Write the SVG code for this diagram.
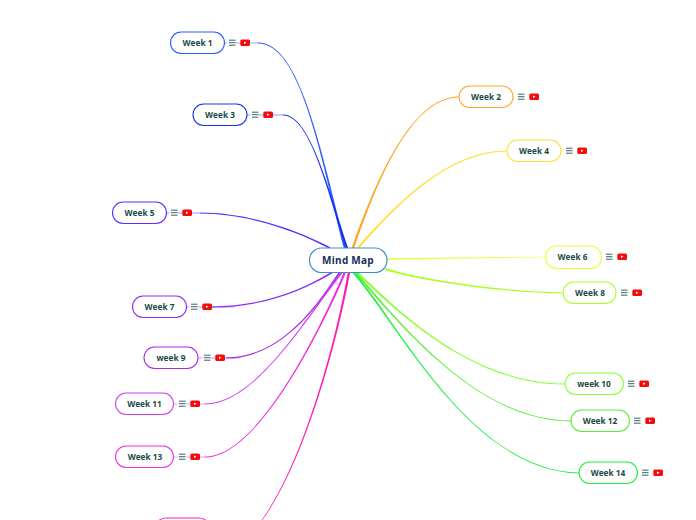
<svg xmlns="http://www.w3.org/2000/svg" width="696" height="520" viewBox="0 0 696 520">
<style>
text{font-family:"Open Sans","Noto Sans",sans-serif;font-weight:700;fill:#1a4a45;font-size:8.3px;text-anchor:middle}
.n{fill:#fff;stroke-width:1.1}
.s{fill:none;stroke-width:1;stroke-opacity:.5}
.m{fill:none;stroke:#2a5a55;stroke-width:.95}
.y{fill:#f40b0b}.t{fill:#fff}
</style>
<defs>
<g id="ic"><rect class="t" x="-17.500" y="-5" width="8.500" height="10"/><path class="m" d="M-16-2.800h6.500M-16-.3h6.500M-16 2.200h6.500"/><rect class="y" x="-4.700" y="-3.600" width="9.700" height="6.500" rx="1.500"/><path class="t" d="M-1-1.500L1.500-.3L-1 1z"/></g>
</defs>
<g id="connectors">
<path fill="#2a5cff" d="M346.200 248C320.800 150 300 42.400 258 42.500V43.500C300 43.600 319.200 150 343.800 248Z"/>
<path class="s" stroke="#2a5cff" d="M224.500 43H258"/>
<path fill="#1a30f0" d="M348.200 248C328.800 190 310 114.400 283 114.500V115.500C310 115.600 327.200 190 345.800 248Z"/>
<path class="s" stroke="#1a30f0" d="M247 115H283"/>
<path fill="#5a2cff" d="M330.400 247.300C300.300 231.500 250 212.400 200 212.500V213.500C250 213.600 299.700 232.500 329.600 248.700Z"/>
<path class="s" stroke="#5a2cff" d="M166.500 213H200"/>
<path fill="#8a2cf5" d="M333.400 272.700C300.300 292.500 260 307.600 212 307.500V306.500C260 306.400 299.700 291.500 332.600 271.300Z"/>
<path class="s" stroke="#8a2cf5" d="M186.500 307H235"/>
<path fill="#a82ce8" d="M340.800 272.500C322.600 298.400 285 358.600 226 358.500V357.500C285 357.400 321.400 297.600 339.200 271.500Z"/>
<path class="s" stroke="#a82ce8" d="M198 358H240"/>
<path fill="#d03cf0" d="M342.800 272.600C305.500 320.400 255 404.600 205 404.500V403.500C255 403.400 304.500 319.600 341.200 271.400Z"/>
<path class="s" stroke="#d03cf0" d="M173.500 404H205"/>
<path fill="#f02ce0" d="M346 272.400C325.600 320.300 260 457.600 205 457.500V456.500C260 456.400 324.400 319.700 344 271.600Z"/>
<path class="s" stroke="#f02ce0" d="M173.500 457H205"/>
<path fill="#ff1cb0" d="M350.200 272C335.800 350 302.600 465 262.500 520H261.700C301.400 465 334.200 350 347.800 272Z"/>
<path fill="#ffa726" d="M354.200 248.400C375.800 185.300 410 97.600 459 97.500V96.500C410 96.400 374.200 184.700 351.800 247.600Z"/>
<path fill="#ffe033" d="M358.800 248.700C400.500 200.500 450 151.600 507 151.500V150.500C450 150.400 399.500 199.500 357.200 247.300Z"/>
<path fill="#e6ff33" d="M387 258.300L545 256.700V257.300L387 259.700Z"/>
<path fill="#aaff22" d="M384.800 269.900C419.800 280.700 500 292.600 563 293.400V292.600C500 291.400 420.200 279.300 385.200 268.100Z"/>
<path fill="#88ff33" d="M357.700 271.300C410.500 324.500 480 383.500 565 383.600V384.400C480 384.500 409.500 325.500 356.300 272.700Z"/>
<path fill="#55ee33" d="M355.800 271.400C405.600 329.600 480 420.500 571 420.600V421.400C480 421.500 404.400 330.400 354.200 272.600Z"/>
<path fill="#22ee44" d="M353.800 271.400C400.600 324.600 470 469.500 579 472.600V473.400C470 470.500 399.400 325.400 352.200 272.600Z"/>
</g>
<g id="center"><rect x="309.500" y="248" width="77.500" height="24.500" rx="12" fill="#fff" stroke="#3a8fd0" stroke-width="1.200"/><text x="348" y="264" style="font-size:10px;fill:#14305a;letter-spacing:.25px">Mind Map</text></g>
<g id="week1"><rect class="n" x="170.500" y="32" width="54" height="21.500" rx="10.700" stroke="#2a5cff"/><text x="197.500" y="46">Week 1</text><use href="#ic" x="245" y="43"/></g>
<g id="week3"><rect class="n" x="193" y="104" width="54" height="21.500" rx="10.700" stroke="#1a30f0"/><text x="220" y="118">Week 3</text><use href="#ic" x="268" y="115"/></g>
<g id="week5"><rect class="n" x="112.500" y="202" width="54" height="21.500" rx="10.700" stroke="#5a2cff"/><text x="139.500" y="216">Week 5</text><use href="#ic" x="187" y="213"/></g>
<g id="week7"><rect class="n" x="132.500" y="296" width="54" height="21.500" rx="10.700" stroke="#8a2cf5"/><text x="159.500" y="310">Week 7</text><use href="#ic" x="207" y="307"/></g>
<g id="week9"><rect class="n" x="144" y="347" width="54" height="21.500" rx="10.700" stroke="#a82ce8"/><text x="171" y="361">week 9</text><use href="#ic" x="220" y="358"/></g>
<g id="week11"><rect class="n" x="115.500" y="393" width="58" height="21.500" rx="10.700" stroke="#d03cf0"/><text x="144.500" y="407">Week 11</text><use href="#ic" x="195" y="404"/></g>
<g id="week13"><rect class="n" x="115.500" y="446" width="58" height="21.500" rx="10.700" stroke="#f02ce0"/><text x="145" y="460">Week 13</text><use href="#ic" x="195" y="457"/></g>
<g id="week15"><rect class="n" x="155" y="518" width="55" height="21.500" rx="10.700" stroke="#ff1cb0"/></g>
<g id="week2"><rect class="n" x="459" y="86" width="54" height="21.500" rx="10.700" stroke="#ffa726"/><text x="486" y="100">Week 2</text><use href="#ic" x="534" y="97"/></g>
<g id="week4"><rect class="n" x="507" y="140" width="54" height="21.500" rx="10.700" stroke="#ffe033"/><text x="534" y="154">Week 4</text><use href="#ic" x="582" y="151"/></g>
<g id="week6"><rect class="n" x="545.500" y="246" width="56" height="22.500" rx="11" stroke="#e6ff33"/><text x="572.500" y="260">Week 6</text><use href="#ic" x="622" y="257"/></g>
<g id="week8"><rect class="n" x="563" y="282" width="53" height="21.500" rx="10.700" stroke="#aaff22"/><text x="590" y="296">Week 8</text><use href="#ic" x="637" y="293"/></g>
<g id="week10"><rect class="n" x="565" y="373" width="58.500" height="21.500" rx="10.700" stroke="#88ff33"/><text x="594" y="387">week 10</text><use href="#ic" x="644" y="384"/></g>
<g id="week12"><rect class="n" x="571" y="410" width="58.500" height="21.500" rx="10.700" stroke="#55ee33"/><text x="600" y="424">Week 12</text><use href="#ic" x="650" y="421"/></g>
<g id="week14"><rect class="n" x="579" y="462" width="58.500" height="21.500" rx="10.700" stroke="#22ee44"/><text x="608" y="476">Week 14</text><use href="#ic" x="658" y="473"/></g>
</svg>
